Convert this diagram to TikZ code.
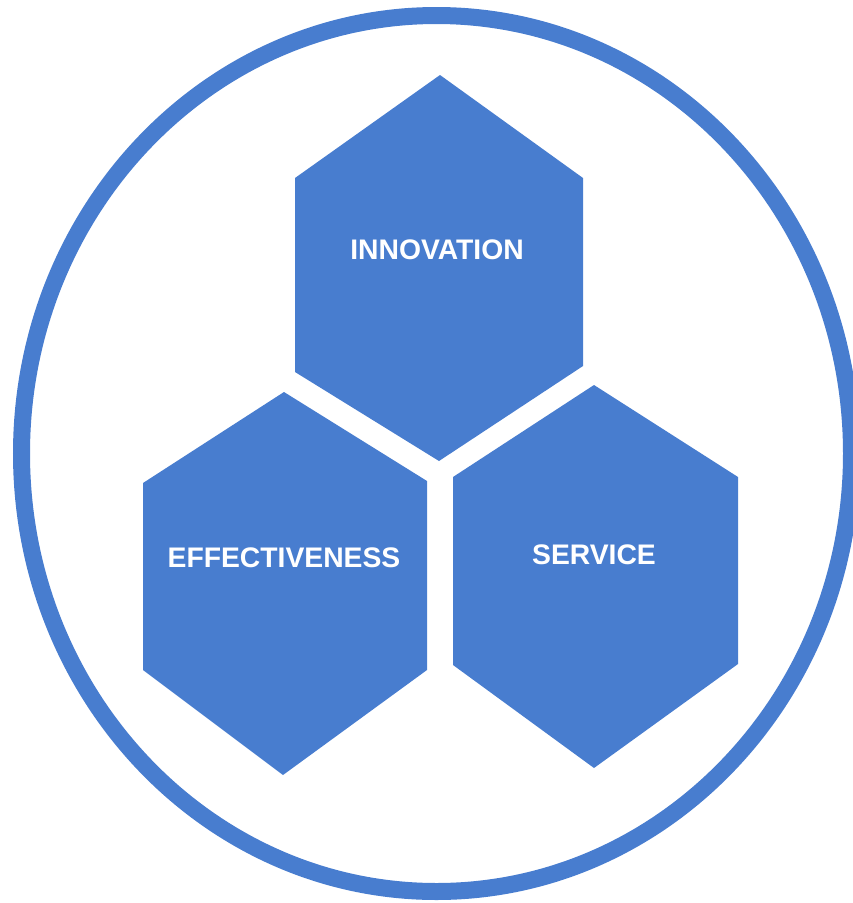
\documentclass[tikz,border=0pt]{standalone}
\usepackage{fontspec}
\setmainfont{Liberation Sans}
\definecolor{hexblue}{RGB}{72,125,207}
\begin{document}
\begin{tikzpicture}[x=1pt,y=-1pt,
  hexa/.style={fill=hexblue,draw=none},
  lbl/.style={text=white,font=\bfseries\fontsize{28.3}{30}\selectfont,inner sep=0pt}]
\useasboundingbox (0,0) rectangle (853,903);
\begin{scope}
\clip (0,0) rectangle (853,903);
\draw[hexblue,line width=17pt] (436.5,453.5) ellipse [x radius=415, y radius=438];
\end{scope}
% Innovation hexagon
\fill[hexa] (440,75) -- (583,178) -- (583,366) -- (439,461) -- (295,372) -- (295,178) -- cycle;
% Effectiveness hexagon
\fill[hexa] (284,392) -- (427,481) -- (427,670) -- (283,775) -- (143,670) -- (143,483) -- cycle;
% Service hexagon
\fill[hexa] (594,385) -- (738,477) -- (738,664) -- (594,768) -- (453,665) -- (453,477) -- cycle;
\node[lbl] (inn) at (437,250) {INNOVATION};
\node[lbl] (eff) at (284,558) {EFFECTIVENESS};
\node[lbl] (ser) at (594,555) {SERVICE};
\end{tikzpicture}
\end{document}
